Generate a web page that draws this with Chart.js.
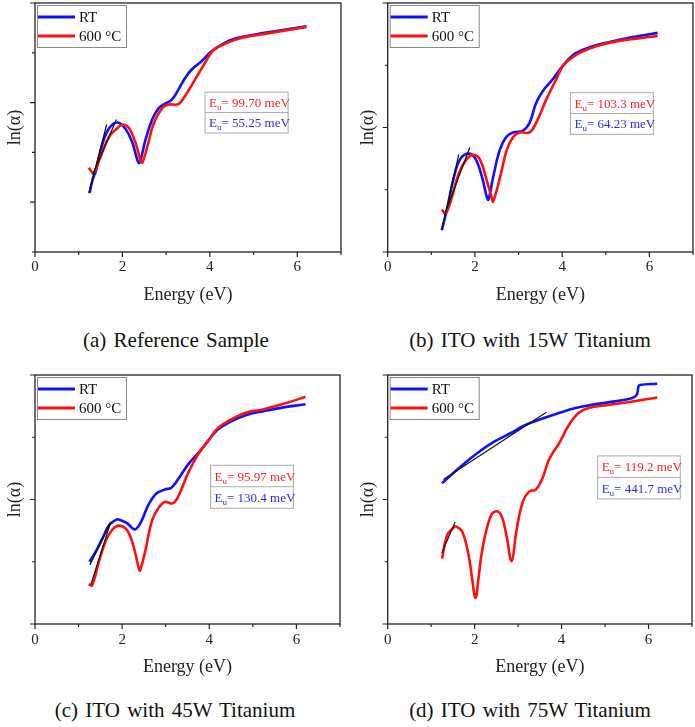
<!DOCTYPE html>
<html>
<head>
<meta charset="utf-8">
<script src="https://cdn.jsdelivr.net/npm/chart.js@4.4.0/dist/chart.umd.min.js"></script>
<style>
  html, body { margin: 0; padding: 0; background: #fff; width: 695px; height: 727px; overflow: hidden; }
  canvas { position: absolute; }
  .cap { position: absolute; font-family: "Liberation Serif", serif; font-size: 21px; line-height: 24px;
         color: #111; white-space: nowrap; word-spacing: 2px; transform: translateX(-50%); }
</style>
</head>
<body>
<canvas id="chartA" width="347" height="310" style="left:0;top:0"></canvas>
<canvas id="chartB" width="352" height="310" style="left:347px;top:0"></canvas>
<canvas id="chartC" width="347" height="317" style="left:0;top:365px"></canvas>
<canvas id="chartD" width="352" height="317" style="left:347px;top:365px"></canvas>
<div class="cap" style="left:176px;top:328px">(a) Reference Sample</div>
<div class="cap" style="left:530px;top:328px">(b) ITO with 15W Titanium</div>
<div class="cap" style="left:175px;top:698px">(c) ITO with 45W Titanium</div>
<div class="cap" style="left:530px;top:698px">(d) ITO with 75W Titanium</div>
<script>
// series names and x tick labels
var seriesLabels = ['RT', '600 °C'];
var xTickLabels = [0, 2, 4, 6];

// (a) reference sample
var refRtE  = [1.25, 1.32, 1.40, 1.55, 1.70, 1.89, 2.08, 2.23, 2.34, 2.39, 2.53, 2.68, 2.83, 2.98, 3.13, 3.28, 3.43, 3.58, 3.81, 4.04, 4.34, 4.64, 5.25, 5.70, 6.21];
var refRtLn = [0.19, 0.46, 0.65, 1.19, 1.49, 1.60, 1.46, 1.19, 0.85, 0.79, 1.26, 1.66, 1.89, 1.98, 2.06, 2.26, 2.49, 2.66, 2.83, 3.03, 3.20, 3.30, 3.40, 3.46, 3.53];
var refHtE  = [1.23, 1.34, 1.47, 1.70, 1.89, 2.00, 2.15, 2.30, 2.42, 2.46, 2.57, 2.72, 2.91, 3.06, 3.28, 3.43, 3.66, 3.89, 4.08, 4.42, 4.72, 5.25, 6.21];
var refHtLn = [0.69, 0.59, 0.85, 1.32, 1.49, 1.56, 1.49, 1.19, 0.82, 0.80, 1.12, 1.59, 1.89, 1.96, 1.97, 2.13, 2.46, 2.80, 3.05, 3.21, 3.30, 3.38, 3.52];
var refFit1E = [1.23, 1.64], refFit1Ln = [0.18, 1.56];
var refFit2E = [1.32, 1.86], refFit2Ln = [0.55, 1.66];
var refEu = ['99.70', '55.25'];

// (b) 15W Ti
var ti15RtE  = [1.24, 1.37, 1.52, 1.67, 1.86, 2.01, 2.16, 2.27, 2.31, 2.42, 2.57, 2.72, 2.88, 3.10, 3.25, 3.40, 3.55, 3.78, 4.00, 4.30, 4.68, 5.06, 5.59, 6.19];
var ti15RtLn = [0.35, 0.72, 1.21, 1.50, 1.58, 1.50, 1.21, 0.89, 0.84, 1.21, 1.64, 1.85, 1.92, 1.95, 2.07, 2.39, 2.58, 2.77, 2.98, 3.19, 3.30, 3.37, 3.45, 3.52];
var ti15HtE  = [1.24, 1.33, 1.45, 1.63, 1.82, 1.97, 2.12, 2.27, 2.39, 2.42, 2.58, 2.73, 2.88, 3.03, 3.25, 3.40, 3.63, 3.86, 4.04, 4.38, 4.76, 5.21, 6.19];
var ti15HtLn = [0.68, 0.62, 0.83, 1.26, 1.50, 1.56, 1.48, 1.15, 0.86, 0.81, 1.21, 1.64, 1.85, 1.92, 1.92, 2.07, 2.44, 2.77, 3.01, 3.19, 3.30, 3.38, 3.47];
var ti15Fit1E = [1.24, 1.63], ti15Fit1Ln = [0.35, 1.57];
var ti15Fit2E = [1.30, 1.88], ti15Fit2Ln = [0.59, 1.68];
var ti15Eu = ['103.3', '64.23'];

// (c) 45W Ti
var ti45RtE  = [1.25, 1.40, 1.55, 1.70, 1.85, 1.92, 2.11, 2.29, 2.42, 2.60, 2.79, 2.98, 3.13, 3.28, 3.51, 3.74, 3.96, 4.19, 4.49, 4.87, 5.25, 5.70, 6.21];
var ti45RtLn = [1.00, 1.17, 1.38, 1.59, 1.67, 1.68, 1.62, 1.52, 1.62, 1.91, 2.10, 2.16, 2.19, 2.32, 2.56, 2.74, 2.93, 3.12, 3.25, 3.36, 3.42, 3.48, 3.53];
var ti45HtE  = [1.23, 1.31, 1.47, 1.62, 1.77, 1.92, 2.11, 2.26, 2.38, 2.41, 2.53, 2.68, 2.83, 2.98, 3.17, 3.32, 3.51, 3.74, 3.96, 4.19, 4.49, 4.87, 5.25, 5.77, 6.21];
var ti45HtLn = [0.64, 0.62, 1.01, 1.33, 1.51, 1.58, 1.51, 1.25, 0.90, 0.86, 1.17, 1.65, 1.86, 1.96, 1.94, 2.10, 2.42, 2.72, 2.93, 3.14, 3.28, 3.40, 3.45, 3.55, 3.65];
var ti45Fit1E = [1.26, 1.74], ti45Fit1Ln = [0.95, 1.64];
var ti45Fit2E = [1.28, 1.74], ti45Fit2Ln = [0.63, 1.64];
var ti45Eu = ['95.97', '130.4'];

// (d) 75W Ti
var ti75RtE  = [1.25, 1.68, 2.05, 2.43, 2.81, 3.18, 3.56, 3.94, 4.32, 4.69, 5.07, 5.52, 5.68, 5.74, 5.77, 5.80, 6.20];
var ti75RtLn = [2.26, 2.53, 2.74, 2.92, 3.06, 3.20, 3.30, 3.39, 3.47, 3.52, 3.56, 3.61, 3.65, 3.70, 3.82, 3.84, 3.86];
var ti75HtE  = [1.25, 1.37, 1.52, 1.56, 1.71, 1.86, 1.94, 2.02, 2.09, 2.17, 2.35, 2.49, 2.62, 2.73, 2.85, 2.96, 3.11, 3.26, 3.41, 3.56, 3.71, 3.94, 4.17, 4.39, 4.62, 5.07, 5.60, 6.20];
var ti75HtLn = [1.05, 1.43, 1.55, 1.57, 1.49, 1.11, 0.74, 0.42, 0.74, 1.17, 1.70, 1.81, 1.73, 1.43, 1.01, 1.49, 1.97, 2.13, 2.16, 2.34, 2.64, 2.90, 3.20, 3.39, 3.47, 3.52, 3.57, 3.64];
var ti75Fit1E = [1.28, 3.65], ti75Fit1Ln = [2.32, 3.40];
var ti75Fit2E = [1.245, 1.55], ti75Fit2Ln = [1.14, 1.64];
var ti75Eu = ['119.2', '441.7'];

var serif = '"Liberation Serif", "Times New Roman", serif';
var blue = '#1010ff', red = '#ff1010';

function pts(xs, ys) {
    return xs.map(function(x, i) { return {x: x, y: ys[i]}; });
}

// frame, ticks, in-plot legend and the Eu box
var extras = {
    id: 'extras',
    afterDraw: function(chart, args, o) {
        var ctx = chart.ctx, a = chart.chartArea;
        var xs = chart.scales.x, ys = chart.scales.y;
        ctx.save();
        ctx.strokeStyle = '#222';
        ctx.lineWidth = 1.3;
        ctx.strokeRect(a.left, a.top, a.right - a.left, a.bottom - a.top);

        ctx.lineWidth = 1.2;
        ctx.beginPath();
        var v, p, len;
        for (v = Math.ceil(xs.min); v <= xs.max; v++) {
            p = xs.getPixelForValue(v);
            len = v % 2 === 0 ? 5 : 3;
            ctx.moveTo(p, a.bottom); ctx.lineTo(p, a.bottom + len);
        }
        for (v = Math.ceil(ys.min); v <= ys.max; v++) {
            p = ys.getPixelForValue(v);
            len = Math.abs(v % 2) === 0 ? 5 : 3;
            ctx.moveTo(a.left, p); ctx.lineTo(a.left - len, p);
        }
        ctx.stroke();

        // legend
        var lx = a.left + 2, ly = a.top + 2;
        ctx.strokeStyle = '#888';
        ctx.lineWidth = 1;
        ctx.strokeRect(lx + 0.5, ly + 0.5, 89, 42);
        ctx.font = '15px ' + serif;
        ctx.textBaseline = 'middle';
        ctx.fillStyle = '#111';
        [blue, red].forEach(function(c, i) {
            var y = ly + 12 + i * 19;
            ctx.strokeStyle = c;
            ctx.lineWidth = 3;
            ctx.beginPath(); ctx.moveTo(lx + 1, y); ctx.lineTo(lx + 38, y); ctx.stroke();
            ctx.fillText(seriesLabels[i], lx + 42, y + 1);
        });

        // Eu box
        var b = o.box;
        var x0 = xs.getPixelForValue(b[0]), x1 = xs.getPixelForValue(b[1]);
        var y0 = ys.getPixelForValue(b[2]), y1 = ys.getPixelForValue(b[3]);
        var ym = (y0 + y1) / 2;
        ctx.strokeStyle = '#aaa';
        ctx.lineWidth = 1;
        ctx.strokeRect(x0, y0, x1 - x0, y1 - y0);
        ctx.beginPath(); ctx.moveTo(x0, ym); ctx.lineTo(x1, ym); ctx.stroke();
        ctx.textBaseline = 'alphabetic';
        [[y0, '#ff2020'], [ym, '#2a2aff']].forEach(function(row, i) {
            var base = row[0] + (ym - y0) / 2 + 4.5;
            var tx = x0 + 4;
            ctx.fillStyle = row[1];
            ctx.font = '13px ' + serif;
            ctx.fillText('E', tx, base);
            tx += ctx.measureText('E').width;
            ctx.font = '9px ' + serif;
            ctx.fillText('u', tx, base + 3);
            tx += ctx.measureText('u').width;
            ctx.font = '13px ' + serif;
            ctx.fillText('= ' + o.eu[i] + ' meV', tx, base);
        });
        ctx.restore();
    }
};

function makeChart(id, p) {
    var ctx = document.getElementById(id).getContext('2d');
    return new Chart(ctx, {
        type: 'line',
        data: {
            datasets: [
                { data: pts(p.fit1[0], p.fit1[1]), borderColor: '#111', borderWidth: 1.2, tension: 0, order: 0 },
                { data: pts(p.fit2[0], p.fit2[1]), borderColor: '#111', borderWidth: 1.2, tension: 0, order: 0 },
                { label: seriesLabels[1], data: pts(p.ht[0], p.ht[1]), borderColor: red, borderWidth: 2.6, tension: 0.4, order: 1 },
                { label: seriesLabels[0], data: pts(p.rt[0], p.rt[1]), borderColor: blue, borderWidth: 2.6, tension: 0.4, order: 2 }
            ]
        },
        options: {
            responsive: false,
            animation: false,
            layout: { padding: p.pad },
            elements: { point: { radius: 0 } },
            plugins: {
                legend: { display: false },
                tooltip: { enabled: false },
                extras: { box: p.box, eu: p.eu }
            },
            scales: {
                x: {
                    type: 'linear', min: 0, max: 7,
                    afterFit: function(s) { s.height = 58; },
                    grid: { display: false, drawTicks: false },
                    border: { display: false },
                    ticks: {
                        stepSize: 1, autoSkip: false, maxRotation: 0, padding: p.tickPad,
                        color: '#222', font: { family: serif, size: 15 },
                        callback: function(v) { return xTickLabels.indexOf(v) >= 0 ? String(v) : ''; }
                    },
                    title: { display: true, text: 'Energy (eV)', color: '#222',
                             font: { family: serif, size: 18 }, padding: { top: 0, bottom: 4 } }
                },
                y: {
                    type: 'linear', min: p.yMin, max: 4,
                    afterFit: function(s) { s.width = p.yw; },
                    grid: { display: false, drawTicks: false },
                    border: { display: false },
                    ticks: { display: false, stepSize: 1 },
                    title: { display: true, text: 'ln(α)', color: '#222',
                             font: { family: serif, size: 18 }, padding: { top: p.yTitlePad, bottom: 0 } }
                }
            }
        },
        plugins: [extras]
    });
}

makeChart('chartA', {
    rt: [refRtE, refRtLn], ht: [refHtE, refHtLn],
    fit1: [refFit1E, refFit1Ln], fit2: [refFit2E, refFit2Ln], eu: refEu,
    yMin: -1, yw: 35, yTitlePad: 4, tickPad: 6,
    pad: { top: 3, right: 3, left: 0, bottom: 0 },
    box: [3.89, 5.79, 2.21, 1.39]
});
makeChart('chartB', {
    rt: [ti15RtE, ti15RtLn], ht: [ti15HtE, ti15HtLn],
    fit1: [ti15Fit1E, ti15Fit1Ln], fit2: [ti15Fit2E, ti15Fit2Ln], eu: ti15Eu,
    yMin: 0, yw: 40.7, yTitlePad: 10, tickPad: 6,
    pad: { top: 3, right: 2, left: 0, bottom: 0 },
    box: [4.19, 6.09, 2.56, 1.89]
});
makeChart('chartC', {
    rt: [ti45RtE, ti45RtLn], ht: [ti45HtE, ti45HtLn],
    fit1: [ti45Fit1E, ti45Fit1Ln], fit2: [ti45Fit2E, ti45Fit2Ln], eu: ti45Eu,
    yMin: 0, yw: 35, yTitlePad: 4, tickPad: 7,
    pad: { top: 10, right: 3, left: 0, bottom: 0 },
    box: [4.03, 5.93, 2.55, 1.86]
});
makeChart('chartD', {
    rt: [ti75RtE, ti75RtLn], ht: [ti75HtE, ti75HtLn],
    fit1: [ti75Fit1E, ti75Fit1Ln], fit2: [ti75Fit2E, ti75Fit2Ln], eu: ti75Eu,
    yMin: 0, yw: 40.7, yTitlePad: 10, tickPad: 7,
    pad: { top: 10, right: 2, left: 0, bottom: 0 },
    box: [4.83, 6.73, 2.70, 2.01]
});
</script>
</body>
</html>
